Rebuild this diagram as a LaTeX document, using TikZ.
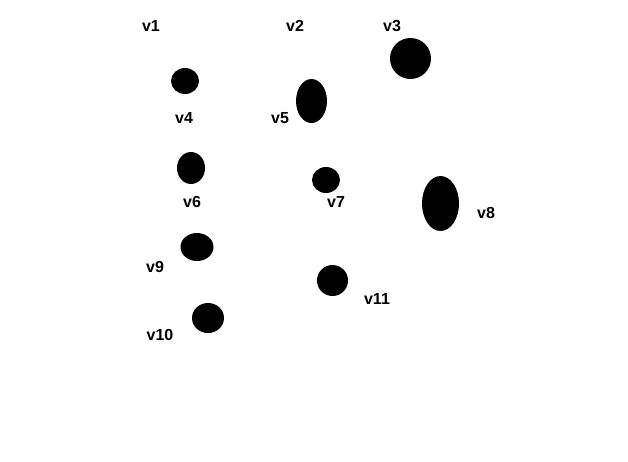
\documentclass[tikz,border=0pt]{standalone}
\usepackage{fontspec}
\setmainfont{Liberation Sans}
\usetikzlibrary{shapes.geometric}
\begin{document}
\begin{tikzpicture}[x=1pt,y=-1pt,
  dot/.style={ellipse,fill=black,draw=none,inner sep=0pt},
  lbl/.style={font=\fontsize{16}{16}\selectfont\bfseries,inner sep=0pt,anchor=center}]
\useasboundingbox (0,0) rectangle (628,461);
\fill[white] (0,0) rectangle (628,461);
% vertices
\node[dot,minimum width=28pt,minimum height=26pt] (e4) at (185,81) {};
\node[dot,minimum width=31pt,minimum height=44pt] (e5) at (311.5,101) {};
\node[dot,minimum width=41pt,minimum height=41pt] (e3) at (410.5,58.5) {};
\node[dot,minimum width=28pt,minimum height=32pt] (e6) at (191,168) {};
\node[dot,minimum width=28pt,minimum height=26pt] (e7) at (326,180) {};
\node[dot,minimum width=37pt,minimum height=55pt] (e8) at (440.5,203.5) {};
\node[dot,minimum width=33pt,minimum height=28pt] (e9) at (197,247) {};
\node[dot,minimum width=31pt,minimum height=31pt] (e11) at (332.5,280.5) {};
\node[dot,minimum width=32pt,minimum height=30pt] (e10) at (208,318) {};
% labels
\node[lbl] (v1) at (151,26) {v1};
\node[lbl] (v2) at (295,26) {v2};
\node[lbl] (v3) at (392,26) {v3};
\node[lbl] (v4) at (184,118) {v4};
\node[lbl] (v5) at (280,118) {v5};
\node[lbl] (v6) at (192,202) {v6};
\node[lbl] (v7) at (336,202) {v7};
\node[lbl] (v8) at (486,213) {v8};
\node[lbl] (v9) at (155,267) {v9};
\node[lbl] (v10) at (160,335) {v10};
\node[lbl] (v11) at (377,299) {v11};
\end{tikzpicture}
\end{document}
